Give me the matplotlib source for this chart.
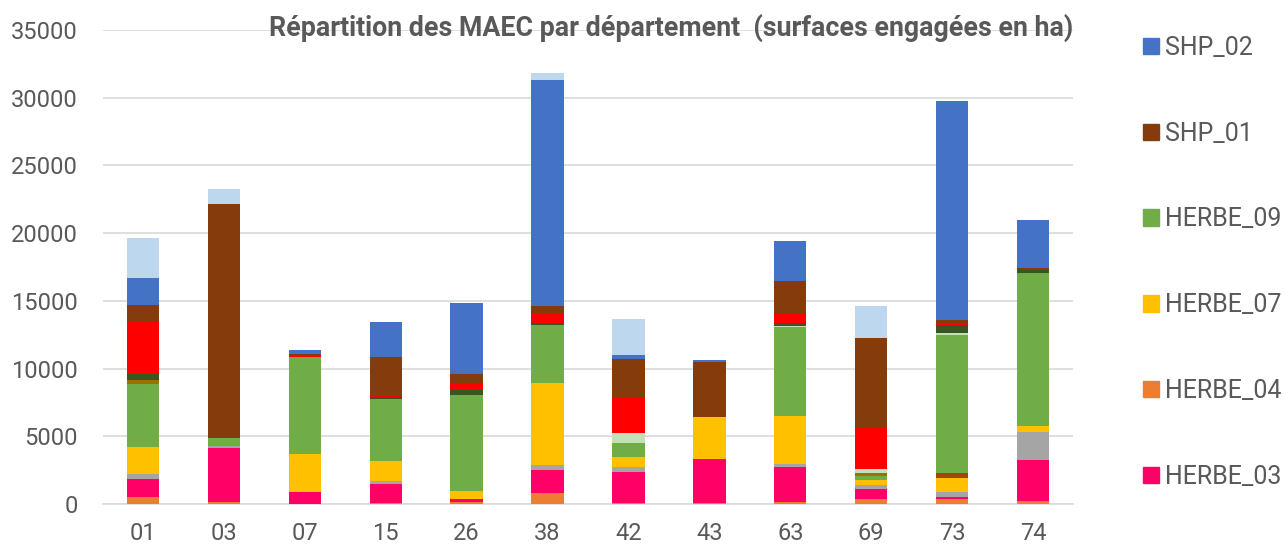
import numpy as np
import matplotlib.pyplot as plt
from matplotlib.patches import Patch

plt.rcParams['font.family'] = ['Roboto', 'DejaVu Sans']

depts = ['01', '03', '07', '15', '26', '38', '42', '43', '63', '69', '73', '74']

# stacked from bottom to top
herbe_04 = [540, 170, 0, 50, 130, 790, 100, 50, 130, 370, 400, 220]
herbe_03 = [1330, 3990, 890, 1390, 240, 1740, 2260, 3250, 2570, 760, 90, 3030]
gris = [350, 150, 0, 240, 0, 370, 350, 0, 230, 300, 370, 2050]
herbe_07 = [1970, 0, 2830, 1520, 570, 6020, 760, 3150, 3570, 310, 1040, 460]
rouille = [0, 0, 0, 0, 0, 0, 0, 0, 0, 0, 370, 0]
herbe_09 = [4650, 540, 7120, 4520, 7110, 4320, 1020, 0, 6580, 340, 10220, 11260]
olive = [320, 0, 0, 0, 0, 0, 0, 0, 0, 190, 0, 0]
vert_clair = [0, 0, 0, 0, 0, 0, 730, 0, 80, 290, 120, 0]
vert_fonce = [420, 0, 0, 150, 350, 160, 0, 0, 200, 0, 570, 250]
rouge = [3890, 50, 100, 160, 520, 690, 2710, 0, 690, 3030, 220, 0]
shp_01 = [1190, 17250, 170, 2860, 660, 540, 2790, 4040, 2390, 6630, 200, 150]
shp_02 = [2060, 0, 270, 2580, 5270, 16650, 290, 150, 2960, 0, 16160, 3540]
bleu_clair = [2930, 1100, 0, 0, 0, 570, 2680, 0, 0, 2410, 0, 0]

series = [
    ('HERBE_04', herbe_04, '#ED7D31'),
    ('HERBE_03', herbe_03, '#FF0066'),
    ('_gris', gris, '#A5A5A5'),
    ('HERBE_07', herbe_07, '#FFC000'),
    ('_rouille', rouille, '#9E480E'),
    ('HERBE_09', herbe_09, '#70AD47'),
    ('_olive', olive, '#997300'),
    ('_vert_clair', vert_clair, '#C5E0B4'),
    ('_vert_fonce', vert_fonce, '#375623'),
    ('_rouge', rouge, '#FF0000'),
    ('SHP_01', shp_01, '#843C0C'),
    ('SHP_02', shp_02, '#4472C4'),
    ('_bleu_clair', bleu_clair, '#BDD7EE'),
]

txt = '#595959'
fig = plt.figure(figsize=(12.85, 5.51), dpi=100)
ax = fig.add_axes([0.0798, 0.0853, 0.7556, 0.8603])

x = np.arange(len(depts))
bottom = np.zeros(len(depts))
handles = {}
for name, vals, col in series:
    vals = np.array(vals, dtype=float)
    ax.bar(x, vals, 0.4, bottom=bottom, color=col, label=name, zorder=3)
    handles[name] = Patch(color=col)
    bottom += vals

ax.set_xlim(-0.5, len(depts) - 0.5)
ax.set_ylim(0, 35000)
ax.set_yticks(np.arange(0, 35001, 5000))
ax.set_xticks(x)
ax.set_xticklabels(depts)
ax.grid(axis='y', color='#D9D9D9', linewidth=1.2, zorder=0)
for s in ['top', 'right', 'left']:
    ax.spines[s].set_visible(False)
ax.spines['bottom'].set_color('#D9D9D9')
ax.spines['bottom'].set_linewidth(1.2)
ax.tick_params(axis='both', length=0, colors=txt, labelsize=17)
ax.tick_params(axis='y', pad=18)
ax.tick_params(axis='x', pad=13)

fig.text(671 / 1285, 1 - 28 / 551, 'Répartition des MAEC par département  (surfaces engagées en ha)',
         ha='center', va='center', fontsize=19.3, fontweight='bold', color=txt)

order = ['SHP_02', 'SHP_01', 'HERBE_09', 'HERBE_07', 'HERBE_04', 'HERBE_03']
leg = fig.legend([handles[n] for n in order], order, loc='upper left',
                 bbox_to_anchor=(1143 / 1285, 1 - 36 / 551), frameon=False,
                 fontsize=18, handlelength=0.64, handleheight=0.64,
                 handletextpad=0.24, labelspacing=2.47, borderpad=0, borderaxespad=0)
for t in leg.get_texts():
    t.set_color(txt)

fig.savefig('out.png', dpi=100)
